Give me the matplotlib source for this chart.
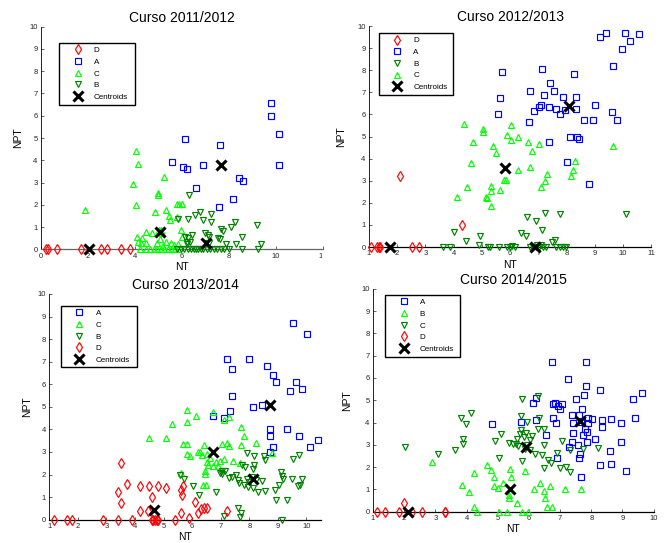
import matplotlib
matplotlib.use("Agg")
import matplotlib.pyplot as plt
from matplotlib.transforms import Bbox, TransformedBbox

plt.rcParams["font.family"] = ["Liberation Sans", "DejaVu Sans"]

# ---------------- Curso 2011/2012 ----------------
p1_d_x = [0.22, 0.3, 0.7, 1.7, 2.55, 2.8, 3.42, 3.8]
p1_d_y = [0, 0, 0, 0, 0, 0, 0, 0]
p1_a_x = [9.79, 9.79, 10.13, 10.11, 6.14, 7.63, 5.59, 6.04, 6.23, 6.88, 8.42, 8.60, 6.58, 8.17, 7.59]
p1_a_y = [6.58, 6.01, 5.20, 3.80, 4.96, 4.70, 3.92, 3.71, 3.61, 3.80, 3.21, 3.06, 2.76, 2.24, 1.89]
p1_c_x = [1.87, 4.03, 4.14, 3.90, 4.05, 5.25, 4.96, 4.98, 4.83, 5.32, 5.44, 5.48, 5.77, 5.87, 5.99,
          5.80, 5.96, 6.00, 4.08, 4.13, 4.24, 4.31, 4.45, 4.47, 4.72, 5.04, 5.11, 5.16, 5.08, 5.32,
          5.55, 4.92, 5.65, 5.85, 5.20, 4.20, 4.45, 4.65, 4.80, 4.95, 5.10, 5.25, 5.40, 5.55, 5.70, 5.85]
p1_c_y = [1.77, 4.43, 3.81, 2.93, 1.97, 3.27, 2.54, 2.43, 1.68, 1.76, 1.50, 1.32, 2.02, 2.02, 2.02,
          1.47, 0.86, 0.54, 0.53, 0.34, 0.27, 0.50, 0.27, 0.76, 0.74, 0.87, 0.86, 0.72, 0.45, 0.35,
          0.27, 0.27, 0.20, 0.22, 0.15, 0, 0, 0, 0, 0, 0, 0, 0, 0, 0, 0]
p1_b_x = [6.31, 5.84, 6.27, 6.57, 6.77, 6.88, 7.24, 7.25, 7.65, 7.73, 8.09, 8.24, 9.18, 8.54, 9.37,
          7.87, 8.30, 7.55, 7.62, 6.98, 7.09, 7.16, 6.13, 6.27, 6.22, 6.34, 6.20, 7.00, 7.16, 6.41,
          5.80, 5.95, 6.10, 6.25, 6.40, 6.50, 6.60, 6.70, 6.80, 6.90, 7.05, 7.20, 7.35, 7.50, 7.65,
          7.80, 8.00, 8.54, 9.22]
p1_b_y = [2.43, 1.35, 1.35, 1.56, 1.69, 1.33, 1.59, 1.21, 0.92, 0.80, 1.02, 1.23, 1.07, 0.57, 0.23,
          0.24, 0.24, 0.49, 0.48, 0.72, 0.64, 0.57, 0.54, 0.49, 0.34, 0.34, 0.24, 0.30, 0.30, 0.64,
          0, 0, 0, 0, 0, 0, 0, 0, 0, 0, 0, 0, 0, 0, 0, 0, 0, 0, 0]
p1_cent_x = [2.05, 7.66, 5.06, 7.0]
p1_cent_y = [0, 3.80, 0.76, 0.30]

# ---------------- Curso 2012/2013 ----------------
p2_d_x = [1.07, 1.30, 1.35, 1.39, 2.10, 2.51, 2.78, 4.29]
p2_d_y = [0, 0, 0, 0, 3.21, 0, 0, 1.01]
p2_a_x = [5.72, 5.63, 5.58, 6.67, 6.71, 7.12, 7.19, 7.41, 7.54, 6.84, 7.01, 7.10, 7.39, 7.61, 7.77,
          7.86, 7.93, 8.28, 8.33, 8.33, 8.13, 8.36, 8.44, 7.37, 8.03, 8.60, 8.93, 8.99, 8.79, 9.17,
          9.39, 9.65, 9.62, 9.77, 9.95, 10.08, 10.26, 10.56]
p2_a_y = [7.90, 6.73, 6.04, 5.65, 7.06, 8.04, 6.88, 7.44, 7.08, 6.16, 6.34, 6.44, 6.35, 6.23, 6.0,
          6.80, 6.22, 7.84, 6.80, 6.23, 4.99, 4.96, 4.90, 4.75, 3.85, 5.75, 5.75, 6.44, 2.86, 9.49,
          9.68, 8.2, 6.09, 5.75, 8.98, 9.68, 9.31, 9.65]
p2_b_x = [3.62, 3.88, 4.00, 4.42, 4.93, 4.88, 5.21, 5.27, 5.59, 5.90, 5.98, 6.08, 6.19, 6.61, 6.37,
          6.55, 6.90, 7.12, 7.22, 7.75, 7.48, 7.60, 10.09, 6.69, 6.81, 6.93, 7.04, 7.16, 7.28, 7.64,
          7.75, 7.87, 7.99, 6.95, 7.10]
p2_b_y = [0, 0, 0.69, 0.29, 0.50, 0.09, 0, 0, 0, 0, 0, 0.03, 0, 1.36, 0.62,
          0.50, 1.19, 0.78, 1.56, 1.50, 0.23, 0.33, 1.51, 0, 0, 0, 0, 0, 0, 0,
          0, 0, 0, 0.08, 0.10]
p2_c_x = [4.36, 4.13, 4.47, 4.62, 4.68, 5.04, 5.04, 5.38, 5.51, 5.31, 5.33, 5.14, 5.18, 5.33, 5.63,
          5.80, 5.84, 5.89, 6.02, 6.04, 6.29, 6.29, 6.64, 6.77, 6.70, 7.01, 7.08, 7.24, 7.30, 8.29,
          8.21, 8.14, 9.64]
p2_c_y = [5.55, 2.25, 2.71, 3.79, 4.77, 5.34, 5.19, 4.59, 4.27, 2.78, 2.55, 2.26, 2.22, 1.87, 2.58,
          3.02, 3.02, 5.07, 5.52, 4.82, 4.99, 3.50, 4.76, 4.35, 3.63, 4.66, 2.73, 3.0, 3.30, 3.90,
          3.48, 3.21, 4.57]
p2_cent_x = [1.76, 8.08, 6.87, 5.82]
p2_cent_y = [0, 6.38, 0, 3.59]

# ---------------- Curso 2013/2014 ----------------
p3_a_x = [9.53, 10.03, 7.23, 8.0, 7.41, 8.61, 8.82, 8.92, 9.63, 9.42, 9.83, 7.41, 8.43, 8.13, 7.32,
          6.72, 7.11, 8.72, 8.74, 9.33, 9.73, 8.82, 10.12, 10.42, 8.74]
p3_a_y = [8.71, 8.21, 7.10, 7.10, 6.69, 6.81, 6.40, 6.11, 6.11, 5.71, 5.79, 5.50, 5.07, 4.99, 4.81,
          4.59, 4.51, 4.03, 3.70, 4.01, 3.70, 3.20, 3.20, 3.51, 2.99]
p3_c_x = [4.49, 5.08, 5.31, 5.81, 6.12, 5.81, 6.72, 7.11, 7.30, 5.67, 5.81, 5.81, 5.92, 6.19, 6.27,
          6.41, 6.53, 6.44, 6.44, 6.39, 6.48, 6.51, 6.57, 6.72, 6.92, 6.97, 7.03, 7.21, 7.28, 7.42,
          7.67, 7.70, 7.83, 7.70, 8.22, 5.61, 8.78, 6.62, 6.33, 6.85, 7.10]
p3_c_y = [3.63, 3.63, 4.22, 4.84, 4.59, 4.31, 4.75, 4.42, 4.53, 3.34, 3.34, 2.91, 2.84, 2.98, 2.98,
          3.31, 2.92, 2.14, 2.04, 1.52, 1.52, 2.56, 2.44, 2.38, 2.38, 2.59, 3.36, 3.41, 3.26, 2.59,
          2.51, 4.12, 3.71, 3.33, 3.40, 2.08, 2.97, 2.75, 2.87, 2.55, 2.68]
p3_b_x = [5.57, 5.73, 6.02, 6.23, 6.83, 7.03, 7.15, 7.10, 7.60, 7.66, 7.70, 7.41, 7.53, 7.59, 7.73,
          7.85, 7.91, 8.00, 8.08, 8.16, 8.14, 8.16, 8.14, 8.32, 8.55, 8.43, 8.55, 8.51, 7.91, 8.94,
          9.32, 8.91, 9.10, 9.15, 9.18, 9.05, 9.54, 9.75, 9.51, 9.84, 9.72, 9.77, 9.13, 7.30, 7.80,
          7.95, 8.25, 7.65, 6.97, 7.05]
p3_b_y = [1.96, 1.82, 1.50, 1.08, 1.21, 2.04, 2.16, 0.16, 0.50, 0.13, 0.30, 1.89, 1.96, 1.77, 2.44,
          2.33, 1.82, 1.67, 1.89, 2.41, 2.23, 2.81, 1.40, 1.23, 1.26, 1.71, 2.63, 2.81, 2.95, 0.88,
          0.88, 1.33, 2.11, 1.95, 1.80, 1.55, 2.67, 2.88, 1.82, 1.82, 1.48, 1.52, 0.0, 1.85, 1.55,
          1.45, 1.75, 1.62, 2.07, 2.15]
p3_d_x = [1.18, 1.61, 1.78, 2.89, 3.42, 3.91, 4.58, 4.64, 4.70, 4.76, 4.82, 5.40,
          3.51, 3.71, 3.39, 3.50, 4.17, 4.49, 4.79, 5.08, 4.61, 4.17, 4.47, 5.60, 5.63, 5.61,
          5.68, 6.10, 6.22, 6.30, 6.41, 6.53, 7.21, 5.90]
p3_d_y = [0, 0, 0, 0, 0, 0, 0, 0, 0, 0, 0, 0,
          2.50, 1.58, 1.21, 0.73, 1.49, 1.49, 1.49, 1.42, 0.99, 0.40, 0.40, 1.32, 1.10, 0.31,
          1.50, 0.80, 0.31, 0.46, 0.50, 0.50, 0.40, 0.09]
p3_cent_x = [8.72, 6.72, 8.12, 4.66]
p3_cent_y = [5.10, 3.0, 1.82, 0.41]

# ---------------- Curso 2014/2015 ----------------
p4_a_x = [6.73, 7.82, 7.26, 7.83, 8.28, 7.76, 7.51, 9.35, 9.64, 6.23, 6.12, 6.78, 6.84, 6.94, 7.07,
          7.00, 7.71, 6.76, 6.87, 7.37, 7.61, 7.42, 7.67, 7.89, 8.03, 7.91, 8.35, 8.63, 8.95, 8.35,
          9.40, 7.42, 7.80, 7.74, 7.85, 7.87, 8.12, 7.37, 7.30, 7.57, 7.64, 7.61, 6.89, 6.54, 5.75,
          6.23, 8.60, 8.95, 8.28, 8.63, 9.10, 7.66, 4.83]
p4_a_y = [6.71, 6.71, 5.95, 5.65, 5.46, 5.25, 5.05, 5.05, 5.31, 5.11, 4.89, 4.83, 4.89, 4.74, 4.83,
          4.59, 4.61, 4.22, 3.96, 4.32, 4.34, 3.99, 4.04, 4.19, 4.14, 3.96, 4.11, 4.14, 3.99, 3.78,
          4.19, 3.54, 3.70, 3.44, 3.59, 3.14, 3.25, 3.14, 2.91, 2.99, 2.57, 2.42, 2.42, 3.44, 4.04,
          4.11, 2.74, 3.11, 2.09, 2.15, 1.84, 1.57, 3.92]
p4_b_x = [2.90, 3.84, 4.08, 4.25, 4.24, 4.35, 4.65, 4.78, 4.88, 4.88, 5.02, 5.16, 5.05, 5.31, 5.39,
          5.43, 5.36, 5.36, 5.61, 5.79, 5.97, 5.86, 6.17, 6.34, 6.49, 6.53, 6.59, 6.73, 6.69, 7.15,
          7.66]
p4_b_y = [2.24, 1.20, 0.90, 1.72, 0.22, 0, 2.09, 1.87, 1.57, 1.15, 1.05, 1.27, 0, 0, 1.91,
          1.54, 0.76, 0.63, 0.37, 0, 0, 1.81, 1.0, 1.30, 0.91, 0.63, 0.21, 0.21, 1.17, 1.03,
          1.03]
p4_c_x = [2.04, 3.08, 3.64, 3.82, 3.97, 4.15, 3.89, 3.89, 4.90, 5.03, 5.12, 5.36, 5.50, 5.58, 5.62,
          5.70, 5.76, 5.79, 5.74, 5.77, 5.93, 5.86, 5.95, 6.02, 6.10, 6.30, 6.33, 6.28, 6.49, 6.48,
          6.48, 6.62, 6.71, 6.89, 7.05, 7.00, 7.18, 7.32, 7.31, 7.74, 8.22, 6.20, 6.41, 5.65, 5.85,
          6.05, 5.90]
p4_c_y = [2.90, 2.57, 2.75, 4.21, 3.95, 4.44, 3.27, 3.02, 3.17, 2.42, 3.50, 3.07, 3.02, 3.05, 3.27,
          3.47, 3.65, 5.04, 4.29, 2.27, 4.04, 2.83, 3.00, 3.20, 3.40, 5.19, 4.19, 3.69, 3.69, 2.97,
          1.97, 2.32, 2.20, 2.65, 3.17, 1.95, 1.99, 1.79, 2.75, 2.81, 2.84, 2.60, 2.54, 2.95, 3.35,
          2.75, 3.55]
p4_d_x = [1.14, 1.37, 1.82, 1.99, 2.26, 2.58, 3.30, 3.32]
p4_d_y = [0, 0, 0, 0.40, 0, 0, 0, 0]
p4_cent_x = [7.63, 5.90, 5.38, 2.12]
p4_cent_y = [4.05, 2.90, 1.00, 0]

# marker styles (MATLAB look)
RED_DIAMOND = dict(marker="d", color="#ff0000", ms=4.8)
BLUE_SQUARE = dict(marker="s", color="#0000ff", ms=3.9)
GREEN_UP = dict(marker="^", color="#00ff00", ms=4.8)
DGREEN_DOWN = dict(marker="v", color="#008000", ms=4.8)


def draw_panel(ax, title, groups, cx, cy, xlim, xticks, leg_pos, ylabelpad, axis_color="black"):
    handles = []
    for label, xs, ys, style in groups:
        h, = ax.plot(xs, ys, linestyle="none", marker=style["marker"], ms=style["ms"],
                     mfc="none", mec=style["color"], mew=0.85, clip_on=False, zorder=3,
                     label=label)
        handles.append(h)
    h, = ax.plot(cx, cy, linestyle="none", marker="x", ms=7, mew=2.2, color="black",
                 clip_on=False, zorder=4, label="Centroids")
    handles.append(h)

    ax.set_xlim(*xlim)
    ax.set_ylim(0, 10)
    ax.set_xticks(xticks)
    ax.set_yticks(range(0, 11))
    ax.tick_params(direction="in", length=2, width=0.5, labelsize=5.5, pad=2.5,
                   colors="0.15")
    for side in ["top", "right"]:
        ax.spines[side].set_visible(False)
    ax.spines["left"].set_linewidth(0.6)
    ax.spines["bottom"].set_linewidth(0.9)
    ax.spines["bottom"].set_color(axis_color)
    ax.set_title(title, fontsize=10, pad=3.5)
    ax.set_xlabel("NT", fontsize=7.5, labelpad=1.5)
    ax.set_ylabel("NPT", fontsize=7.5, labelpad=ylabelpad)

    x0, y1, w = leg_pos
    leg = ax.legend(handles=handles, loc="upper left", bbox_to_anchor=(x0, y1 - 0.3, w, 0.3),
                    mode="expand", fontsize=5.8, frameon=True, fancybox=False,
                    edgecolor="black", framealpha=1, borderpad=0.45, labelspacing=0.5,
                    handlelength=3.7, handletextpad=0.15, borderaxespad=0)
    leg.get_frame().set_linewidth(1.0)
    return ax


fig = plt.figure(figsize=(6.66, 5.43), dpi=100)

ax1 = fig.add_axes([0.0616, 0.5409, 0.4234, 0.4099])
draw_panel(ax1, "Curso 2011/2012",
           [("D", p1_d_x, p1_d_y, RED_DIAMOND),
            ("A", p1_a_x, p1_a_y, BLUE_SQUARE),
            ("C", p1_c_x, p1_c_y, GREEN_UP),
            ("B", p1_b_x, p1_b_y, DGREEN_DOWN)],
           p1_cent_x, p1_cent_y, (0, 12), range(0, 13, 2), (0.064, 0.927, 0.27), 4,
           axis_color="0.4")

ax2 = fig.add_axes([0.554, 0.5451, 0.4239, 0.407])
draw_panel(ax2, "Curso 2012/2013",
           [("D", p2_d_x, p2_d_y, RED_DIAMOND),
            ("A", p2_a_x, p2_a_y, BLUE_SQUARE),
            ("B", p2_b_x, p2_b_y, DGREEN_DOWN),
            ("C", p2_c_x, p2_c_y, GREEN_UP)],
           p2_cent_x, p2_cent_y, (1, 11), range(1, 12), (0.035, 0.968, 0.262), 8)

ax3 = fig.add_axes([0.074, 0.0429, 0.4075, 0.4157])
draw_panel(ax3, "Curso 2013/2014",
           [("A", p3_a_x, p3_a_y, BLUE_SQUARE),
            ("C", p3_c_x, p3_c_y, GREEN_UP),
            ("B", p3_b_x, p3_b_y, DGREEN_DOWN),
            ("D", p3_d_x, p3_d_y, RED_DIAMOND)],
           p3_cent_x, p3_cent_y, (1, 10.5), range(1, 11), (0.043, 0.947, 0.28), 4)

ax4 = fig.add_axes([0.5601, 0.0576, 0.4213, 0.4107])
draw_panel(ax4, "Curso 2014/2015",
           [("A", p4_a_x, p4_a_y, BLUE_SQUARE),
            ("B", p4_b_x, p4_b_y, GREEN_UP),
            ("C", p4_c_x, p4_c_y, DGREEN_DOWN),
            ("D", p4_d_x, p4_d_y, RED_DIAMOND)],
           p4_cent_x, p4_cent_y, (1, 10), range(1, 11), (0.043, 0.972, 0.267), 6.5)

# the first panel was cropped on the right in the original: cut the "12" label
clip = TransformedBbox(Bbox([[0, 0], [322 / 666, 1]]), fig.transFigure)
last = ax1.get_xticklabels()[-1]
last.set_clip_box(clip)
last.set_clip_on(True)

fig.savefig("out.png", dpi=100, facecolor="white")
